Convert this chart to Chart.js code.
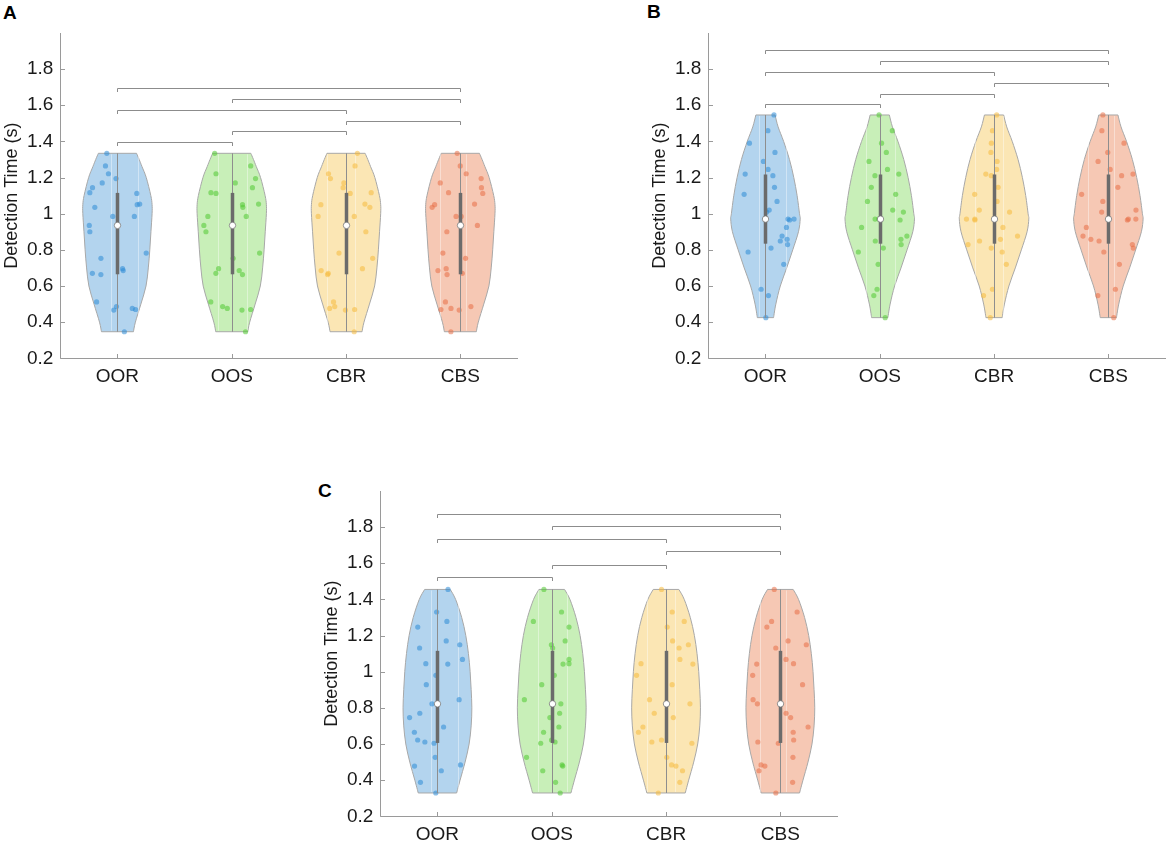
<!DOCTYPE html>
<html>
<head>
<meta charset="utf-8">
<script src="https://cdn.jsdelivr.net/npm/chart.js@4/dist/chart.umd.min.js"></script>
<style>
html,body{margin:0;padding:0;background:#fff;width:1170px;height:844px;overflow:hidden;font-family:"Liberation Sans",Arial,sans-serif;}
canvas{position:absolute;}
.lbl{position:absolute;font-weight:bold;font-size:19px;color:#000;line-height:20px;}
</style>
</head>
<body>
<div class="lbl" style="left:3px;top:3px">A</div>
<div class="lbl" style="left:647px;top:2px">B</div>
<div class="lbl" style="left:318px;top:481px">C</div>
<canvas id="cA" width="522" height="400" style="left:0px;top:0px"></canvas>
<canvas id="cB" width="522" height="400" style="left:648px;top:0px"></canvas>
<canvas id="cC" width="522" height="400" style="left:320px;top:458px"></canvas>
<script>
// ---------------- data ----------------
const categories = ['OOR', 'OOS', 'CBR', 'CBS'];
const yTickValues = [0.2, 0.4, 0.6, 0.8, 1.0, 1.2, 1.4, 1.6, 1.8];
const yTickLabels = ['0.2', '0.4', '0.6', '0.8', '1', '1.2', '1.4', '1.6', '1.8'];

// detection times (s) per panel (same distribution in each group)
const timesA = [1.334, 1.264, 1.221, 1.194, 1.17, 1.144, 1.116, 1.112, 1.053, 1.05, 1.035, 0.985, 0.985, 0.935,
                0.90, 0.782, 0.753, 0.696, 0.685, 0.67, 0.663, 0.512, 0.486, 0.476, 0.47, 0.467, 0.347];
const timesB = [1.546, 1.459, 1.39, 1.339, 1.289, 1.245, 1.219, 1.21, 1.146, 1.107, 1.068, 1.02, 1.009, 0.97,
                0.97, 0.965, 0.924, 0.876, 0.858, 0.849, 0.829, 0.81, 0.788, 0.72, 0.582, 0.547, 0.425];
const timesC = [1.455, 1.33, 1.278, 1.247, 1.17, 1.149, 1.131, 1.068, 1.044, 1.042, 0.98, 0.928, 0.845, 0.822,
                0.77, 0.746, 0.694, 0.665, 0.622, 0.611, 0.604, 0.526, 0.484, 0.478, 0.452, 0.388, 0.329];

// violin density profile (half-width in category units) at given time levels
const densityLevelsA = [0.347, 0.4, 0.5, 0.6, 0.7, 0.8, 0.9, 1.0, 1.05, 1.1, 1.2, 1.26, 1.3, 1.334];
const densityWidthsA = [0.14, 0.157, 0.205, 0.25, 0.27, 0.283, 0.293, 0.303, 0.303, 0.292, 0.252, 0.215, 0.19, 0.167];
const densityLevelsB = [0.425, 0.5, 0.6, 0.7, 0.8, 0.9, 0.97, 1.0, 1.1, 1.2, 1.3, 1.4, 1.48, 1.546];
const densityWidthsB = [0.071, 0.091, 0.13, 0.186, 0.239, 0.289, 0.304, 0.298, 0.277, 0.248, 0.21, 0.159, 0.111, 0.084];
const densityLevelsC = [0.329, 0.4, 0.5, 0.6, 0.7, 0.8, 0.9, 1.0, 1.1, 1.2, 1.3, 1.4, 1.455];
const densityWidthsC = [0.168, 0.198, 0.242, 0.277, 0.295, 0.301, 0.295, 0.286, 0.271, 0.248, 0.212, 0.159, 0.112];

// significance brackets (pairs of groups) and their heights
const bracketPairs = [[1, 2], [2, 3], [3, 4], [1, 3], [2, 4], [1, 4]];
const bracketHeightsA = [1.395, 1.455, 1.515, 1.575, 1.635, 1.695];
const bracketHeightsB = [1.605, 1.664, 1.723, 1.785, 1.844, 1.903];
const bracketHeightsC = [1.523, 1.592, 1.665, 1.732, 1.804, 1.874];

// ---------------- styles ----------------
const fillColors = ['#b3d4ee', '#c8efb8', '#fbe6b4', '#f6c8b4'];
const pointColors = ['rgba(43,138,214,0.55)', 'rgba(80,200,50,0.55)', 'rgba(245,185,60,0.55)', 'rgba(232,110,70,0.55)'];
const innerLineOffsets = [[-0.06, 0.18], [-0.12, 0.13], [-0.17, 0.08], [-0.18, 0.05]];
const FONT = '"Liberation Sans", Arial, sans-serif';

// ---------------- helpers ----------------
function quantile(arr, p) {
  const s = arr.slice().sort((a, b) => a - b);
  const n = s.length;
  let pos = n * p + 0.5;
  if (pos <= 1) return s[0];
  if (pos >= n) return s[n - 1];
  const lo = Math.floor(pos);
  const f = pos - lo;
  return s[lo - 1] + f * (s[lo] - s[lo - 1]);
}
function widthAt(levels, widths, v) {
  if (v <= levels[0]) return widths[0];
  for (let i = 1; i < levels.length; i++) {
    if (v <= levels[i]) {
      const f = (v - levels[i - 1]) / (levels[i] - levels[i - 1]);
      return widths[i - 1] + f * (widths[i] - widths[i - 1]);
    }
  }
  return widths[widths.length - 1];
}
function hash01(i, g, p) {
  const s = Math.sin((i + 1) * 12.9898 + (g + 1) * 78.233 + (p + 1) * 37.719) * 43758.5453;
  return s - Math.floor(s);
}
function smoothPath(ctx, pts, moveFirst) {
  if (moveFirst) ctx.moveTo(pts[0][0], pts[0][1]); else ctx.lineTo(pts[0][0], pts[0][1]);
  for (let i = 0; i < pts.length - 1; i++) {
    const p0 = pts[Math.max(i - 1, 0)], p1 = pts[i], p2 = pts[i + 1], p3 = pts[Math.min(i + 2, pts.length - 1)];
    const c1x = p1[0] + (p2[0] - p0[0]) / 6, c1y = p1[1] + (p2[1] - p0[1]) / 6;
    const c2x = p2[0] - (p3[0] - p1[0]) / 6, c2y = p2[1] - (p3[1] - p1[1]) / 6;
    ctx.bezierCurveTo(c1x, c1y, c2x, c2y, p2[0], p2[1]);
  }
}

const violinPlugin = {
  id: 'violinPlot',
  beforeDatasetsDraw(chart) {
    const cfg = chart.options.plugins.violinPlot;
    const {ctx, scales: {x, y}} = chart;
    ctx.save();
    for (let g = 0; g < categories.length; g++) {
      const c = g + 1;
      const right = cfg.levels.map((lv, i) => [x.getPixelForValue(c + cfg.widths[i]), y.getPixelForValue(lv)]);
      const left = cfg.levels.map((lv, i) => [x.getPixelForValue(c - cfg.widths[i]), y.getPixelForValue(lv)]).reverse();
      ctx.beginPath();
      smoothPath(ctx, right, true);
      smoothPath(ctx, left, false);
      ctx.closePath();
      ctx.fillStyle = fillColors[g];
      ctx.fill();
      ctx.lineWidth = 1;
      ctx.strokeStyle = '#a8a8a8';
      ctx.stroke();
      // faint inner light lines
      const yTop = y.getPixelForValue(cfg.levels[cfg.levels.length - 1]);
      const yBot = y.getPixelForValue(cfg.levels[0]);
      ctx.strokeStyle = 'rgba(255,255,255,0.4)';
      innerLineOffsets[g].forEach(o => {
        const px = Math.round(x.getPixelForValue(c + o)) + 0.5;
        ctx.beginPath(); ctx.moveTo(px, yTop + 1); ctx.lineTo(px, yBot - 1); ctx.stroke();
      });
    }
    ctx.restore();
  },
  afterDatasetsDraw(chart) {
    const cfg = chart.options.plugins.violinPlot;
    const {ctx, chartArea, scales: {x, y}} = chart;
    const data = cfg.times;
    const q1 = quantile(data, 0.25), q3 = quantile(data, 0.75), med = quantile(data, 0.5);
    const mn = Math.min(...data), mx = Math.max(...data);
    ctx.save();
    for (let g = 0; g < categories.length; g++) {
      const px = Math.round(x.getPixelForValue(g + 1)) + 0.5;
      ctx.strokeStyle = '#8e8e8e';
      ctx.lineWidth = 1;
      ctx.beginPath(); ctx.moveTo(px, y.getPixelForValue(mx)); ctx.lineTo(px, y.getPixelForValue(mn)); ctx.stroke();
      ctx.strokeStyle = '#6b6b6b';
      ctx.lineWidth = 3.5;
      ctx.beginPath(); ctx.moveTo(px, y.getPixelForValue(q3)); ctx.lineTo(px, y.getPixelForValue(q1)); ctx.stroke();
      ctx.beginPath();
      ctx.arc(px, y.getPixelForValue(med), 3.2, 0, Math.PI * 2);
      ctx.fillStyle = '#ffffff'; ctx.fill();
      ctx.lineWidth = 0.8; ctx.strokeStyle = '#7a7a7a'; ctx.stroke();
    }
    // brackets
    ctx.strokeStyle = '#8c8c8c';
    ctx.lineWidth = 1;
    bracketPairs.forEach((pr, i) => {
      const x1 = Math.round(x.getPixelForValue(pr[0])) + 0.5;
      const x2 = Math.round(x.getPixelForValue(pr[1])) + 0.5;
      const yy = Math.round(y.getPixelForValue(cfg.brackets[i])) + 0.5;
      ctx.beginPath();
      ctx.moveTo(x1, yy + 3.5); ctx.lineTo(x1, yy); ctx.lineTo(x2, yy); ctx.lineTo(x2, yy + 3.5);
      ctx.stroke();
    });
    // axes lines with inward ticks
    const L = Math.round(chartArea.left) + 0.5, B = Math.round(chartArea.bottom) + 0.5;
    ctx.strokeStyle = '#9a9a9a';
    ctx.beginPath();
    ctx.moveTo(L, Math.round(chartArea.top)); ctx.lineTo(L, B); ctx.lineTo(Math.round(chartArea.right), B);
    ctx.stroke();
    yTickValues.forEach(v => {
      const py = Math.round(y.getPixelForValue(v)) + 0.5;
      ctx.beginPath(); ctx.moveTo(L, py); ctx.lineTo(L + 4.5, py); ctx.stroke();
    });
    for (let g = 0; g < categories.length; g++) {
      const px = Math.round(x.getPixelForValue(g + 1)) + 0.5;
      ctx.beginPath(); ctx.moveTo(px, B); ctx.lineTo(px, B - 4.5); ctx.stroke();
    }
    ctx.restore();
  }
};

function makePanel(id, times, levels, widths, brackets) {
  const datasets = categories.map((name, g) => ({
    label: name,
    data: times.map((v, i) => {
      const w = widthAt(levels, widths, v) * 0.92;
      return {x: g + 1 + (hash01(i, g, id.charCodeAt(1)) * 2 - 1) * w, y: v};
    }),
    pointRadius: 2.6,
    pointBorderWidth: 0,
    pointBackgroundColor: pointColors[g],
    showLine: false
  }));
  new Chart(document.getElementById(id), {
    type: 'scatter',
    data: {datasets},
    plugins: [violinPlugin],
    options: {
      responsive: false,
      animation: false,
      events: [],
      layout: {padding: {top: 32.9, right: 4.5, left: 0, bottom: 0}},
      plugins: {
        legend: {display: false},
        tooltip: {enabled: false},
        violinPlot: {times, levels, widths, brackets}
      },
      scales: {
        x: {
          type: 'linear', min: 0.5, max: 4.5,
          grid: {display: false, drawTicks: false},
          border: {display: false},
          afterBuildTicks: ax => { ax.ticks = categories.map((c, i) => ({value: i + 1})); },
          afterFit: ax => { ax.height = 41.7; },
          ticks: {
            autoSkip: false, maxRotation: 0, padding: 7, color: '#1a1a1a',
            font: {family: FONT, size: 19},
            callback: (v, i) => categories[i]
          }
        },
        y: {
          type: 'linear', min: 0.2, max: 2.0,
          grid: {display: false, drawTicks: false},
          border: {display: false},
          afterBuildTicks: ax => { ax.ticks = yTickValues.map(v => ({value: v})); },
          afterFit: ax => { ax.width = 60.3; },
          ticks: {
            autoSkip: false, padding: 7, color: '#1a1a1a',
            font: {family: FONT, size: 19},
            callback: (v, i) => yTickLabels[i]
          },
          title: {
            display: true, text: 'Detection Time (s)', color: '#1a1a1a',
            font: {family: FONT, size: 18}, padding: {top: 1, bottom: 0}
          }
        }
      }
    }
  });
}

makePanel('cA', timesA, densityLevelsA, densityWidthsA, bracketHeightsA);
makePanel('cB', timesB, densityLevelsB, densityWidthsB, bracketHeightsB);
makePanel('cC', timesC, densityLevelsC, densityWidthsC, bracketHeightsC);
</script>
</body>
</html>
